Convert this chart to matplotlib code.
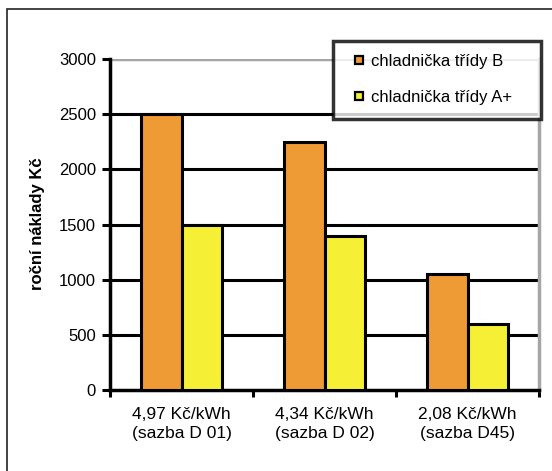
import matplotlib
matplotlib.use("Agg")
import matplotlib.pyplot as plt
from matplotlib.patches import Rectangle
from matplotlib.lines import Line2D
import numpy as np

categories = ["4,97 Kč/kWh\n(sazba D 01)", "4,34 Kč/kWh\n(sazba D 02)", "2,08 Kč/kWh\n(sazba D45)"]
series_names = ["chladnička třídy B", "chladnička třídy A+"]
class_b = [2500, 2250, 1050]
class_a_plus = [1500, 1400, 600]
y_ticks = [0, 500, 1000, 1500, 2000, 2500, 3000]

plt.rcParams['font.family'] = ['Liberation Sans', 'DejaVu Sans']

W, H = 552, 471
fig = plt.figure(figsize=(W / 100, H / 100), dpi=100)
ax = fig.add_axes([110 / W, 1 - 390 / H, (539 - 110) / W, (390 - 59) / H])

orange = "#EE9A35"
yellow = "#F5EF36"
x = np.arange(len(categories))
bw = 0.285
ax.bar(x - bw / 2, class_b, bw, color=orange, edgecolor="black", linewidth=2.2, zorder=3)
ax.bar(x + bw / 2, class_a_plus, bw, color=yellow, edgecolor="black", linewidth=2.2, zorder=3)

ax.set_xlim(-0.5, len(categories) - 0.5)
ax.set_ylim(0, 3000)
ax.set_yticks(y_ticks)
ax.set_yticklabels([str(v) for v in y_ticks], fontsize=12)

# horizontal gridlines: black inside, grey at the top
for v in y_ticks[1:-1]:
    ax.axhline(v, color="black", linewidth=2.2, zorder=1)
ax.axhline(3000, color="#A6A6A6", linewidth=2.5, zorder=1)

# category labels centred, ticks at group boundaries
ax.set_xticks(np.arange(len(categories) + 1) - 0.5)
ax.set_xticklabels([])
ax.tick_params(axis="x", length=5, width=2.2, direction="out")
for xi, lab in zip(x, categories):
    ax.text(xi, -0.05, lab, transform=ax.get_xaxis_transform(), ha="center", va="top",
            fontsize=12.5, linespacing=1.35)
ax.tick_params(axis="y", length=6, width=2.2, direction="out", pad=4)

for side in ["left", "bottom"]:
    ax.spines[side].set_linewidth(2.5)
    ax.spines[side].set_color("black")
ax.spines["right"].set_color("#A6A6A6")
ax.spines["right"].set_linewidth(2.5)
ax.spines["top"].set_visible(False)

fig.text(38 / W, 1 - 224 / H, "roční náklady Kč", rotation=90, ha="center", va="center",
         fontsize=12, fontweight="bold")

handles = [Line2D([], [], linestyle="none", marker="s", markersize=6,
                  markerfacecolor=c, markeredgecolor="black", markeredgewidth=1.6)
           for c in (orange, yellow)]
leg = fig.legend(handles, series_names, loc="upper left",
                 bbox_to_anchor=(333 / W, 1 - 115 / H, (541 - 333) / W, (115 - 41) / H),
                 mode="expand", fontsize=12, frameon=True, fancybox=False,
                 handlelength=1.5, handletextpad=0.0,
                 labelspacing=1.25, borderpad=0.8, borderaxespad=0)
fr = leg.get_frame()
fr.set_edgecolor("black")
fr.set_linewidth(2.5)

# outer frame
fig.patches.append(Rectangle((7 / W, -0.1), 1.2, 1 - 9 / H + 0.1, transform=fig.transFigure,
                             fill=False, edgecolor="#222222", linewidth=1.2))

fig.savefig("out.png", dpi=100)
